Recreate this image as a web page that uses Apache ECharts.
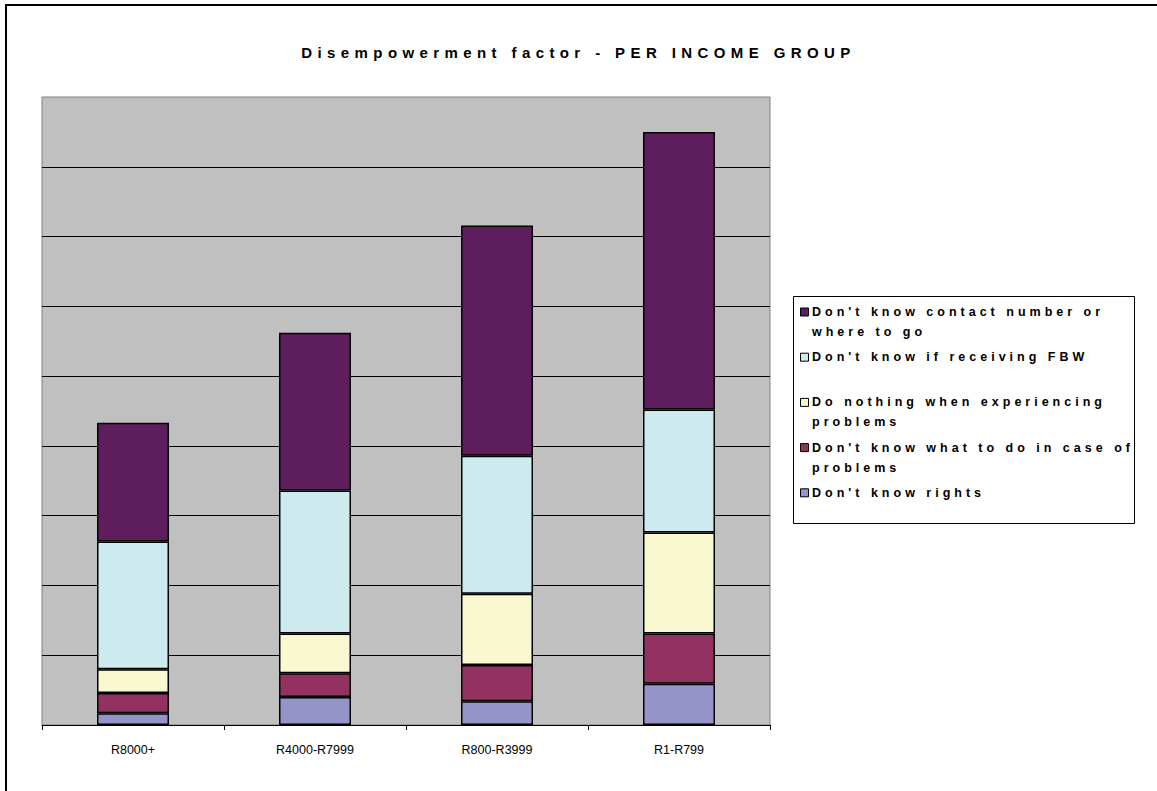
<!DOCTYPE html>
<html>
<head>
<meta charset="utf-8">
<script src="https://cdn.jsdelivr.net/npm/echarts@6/dist/echarts.min.js"></script>
<style>
  html, body { margin: 0; padding: 0; background: #fff; }
  #chart { width: 1157px; height: 791px; }
</style>
</head>
<body>
<div id="chart"></div>
<script>
// Chart text and data
const titleText = 'Disempowerment factor - PER INCOME GROUP';
const categories = ['R8000+', 'R4000-R7999', 'R800-R3999', 'R1-R799'];

// Stack order, bottom to top
const seriesNames = [
  "Don't know rights",
  "Don't know what to do in case of problems",
  "Do nothing when experiencing problems",
  "Don't know if receiving FBW",
  "Don't know contact number or where to go"
];
// Wrapped legend labels, same order as seriesNames
const legendLabels = [
  "Don't know rights",
  "Don't know what to do in case of\nproblems",
  "Do nothing when experiencing\nproblems",
  "Don't know if receiving FBW",
  "Don't know contact number or\nwhere to go"
];

const dontKnowRights   = [1.7, 4.0, 3.4, 5.9];
const dontKnowWhatToDo = [2.9, 3.4, 5.2, 7.2];
const doNothing        = [3.4, 5.7, 10.2, 14.5];
const dontKnowIfFBW    = [18.3, 20.5, 19.8, 17.6];
const dontKnowContact  = [17.0, 22.6, 33.0, 39.8];
const seriesValues = [dontKnowRights, dontKnowWhatToDo, doNothing, dontKnowIfFBW, dontKnowContact];

const colors = ['#9494c8', '#933260', '#faf8d0', '#cdeaee', '#5e1e5e'];

const FONT = 'Arial';

const chart = echarts.init(document.getElementById('chart'), null, { renderer: 'svg' });

// Legend drawn top-down in reverse stack order
const legendChildren = [
  {
    type: 'rect',
    shape: { x: 793.5, y: 296.5, width: 341, height: 227 },
    style: { fill: '#fff', stroke: '#000', lineWidth: 1 }
  }
];
for (let k = 0; k < seriesNames.length; k++) {
  const i = seriesNames.length - 1 - k;
  const cy = 312 + k * 45.2;
  legendChildren.push({
    type: 'rect',
    shape: { x: 800.5, y: cy - 4, width: 8, height: 8 },
    style: { fill: colors[i], stroke: '#000', lineWidth: 1 }
  });
  legendChildren.push({
    type: 'text',
    style: {
      x: 812, y: cy - 10,
      text: legendLabels[i],
      fontFamily: FONT,
      fontWeight: 'bold',
      fontSize: 12.5,
      fill: '#000',
      lineHeight: 20,
      verticalAlign: 'top',
      align: 'left'
    }
  });
}

const option = {
  animation: false,
  backgroundColor: '#fff',
  title: {
    text: titleText,
    left: 'center',
    top: 40,
    textStyle: {
      fontFamily: FONT,
      fontWeight: 'bold',
      fontSize: 15,
      color: '#000'
    }
  },
  grid: {
    left: 42, right: 387, top: 97, bottom: 66,
    show: true,
    backgroundColor: '#c0c0c0',
    borderColor: '#808080',
    borderWidth: 1
  },
  xAxis: {
    type: 'category',
    data: categories,
    axisLine: { lineStyle: { color: '#000', width: 1 } },
    axisTick: { show: true, length: 5, lineStyle: { color: '#000' } },
    axisLabel: {
      margin: 18,
      fontSize: 12.5,
      color: '#000',
      fontFamily: FONT
    }
  },
  yAxis: {
    type: 'value',
    min: 0, max: 90, interval: 10,
    axisLabel: { show: false },
    axisLine: { show: false },
    axisTick: { show: false },
    splitLine: {
      showMaxLine: false,
      showMinLine: false,
      lineStyle: { color: '#000', width: 1 }
    }
  },
  series: seriesNames.map((name, i) => ({
    name: name,
    type: 'bar',
    stack: 'total',
    barWidth: 72,
    data: seriesValues[i],
    itemStyle: { color: colors[i], borderColor: '#000', borderWidth: 1.5 }
  })),
  graphic: [
    {
      type: 'rect',
      z: -10,
      silent: true,
      shape: { x: 6, y: 5, width: 1300, height: 900 },
      style: { fill: 'none', stroke: '#000', lineWidth: 2 }
    },
    { type: 'group', children: legendChildren }
  ]
};

chart.setOption(option);

// Wide letter spacing for the title and legend text
const spacedTexts = {};
spacedTexts[titleText] = '5.4px';
legendLabels.forEach(l => l.split('\n').forEach(line => { spacedTexts[line] = '4.0px'; }));

function applySpacing() {
  chart.getDom().querySelectorAll('text').forEach(t => {
    const s = spacedTexts[t.textContent];
    if (s) t.setAttribute('letter-spacing', s);
  });
}
chart.on('finished', applySpacing);
applySpacing();
requestAnimationFrame(applySpacing);
setTimeout(applySpacing, 0);
setTimeout(applySpacing, 100);
</script>
</body>
</html>
